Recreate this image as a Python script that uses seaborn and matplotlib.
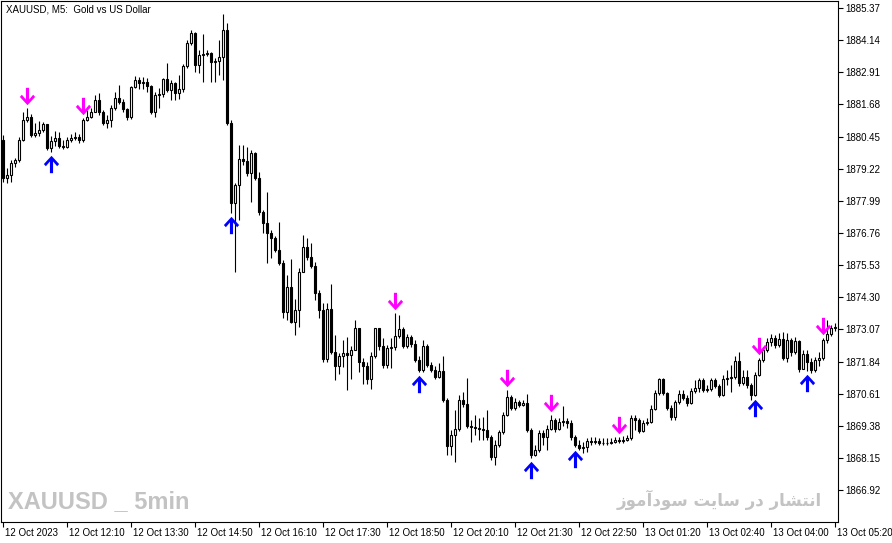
import numpy as np
import pandas as pd
import seaborn as sns
import matplotlib.pyplot as plt
from matplotlib.path import Path
from matplotlib.transforms import offset_copy, ScaledTranslation

# XAUUSD M5 candles, open of bar n = close of bar n-1
first_open = 1880.32
closes = [
    1878.87, 1878.98, 1879.44, 1879.56, 1880.32, 1881.09, 1881.20, 1880.51, 1880.59, 1880.70,
    1880.93, 1880.01, 1880.28, 1880.40, 1880.09, 1880.05, 1880.32, 1880.40, 1880.44, 1880.32,
    1881.09, 1881.20, 1881.39, 1881.85, 1881.39, 1880.97, 1881.09, 1881.55, 1881.93, 1881.78,
    1881.51, 1881.20, 1882.35, 1882.62, 1882.50, 1882.54, 1882.39, 1881.39, 1882.04, 1882.08,
    1882.66, 1882.23, 1882.50, 1882.12, 1882.27, 1883.15, 1884.03, 1884.42, 1883.19, 1883.57,
    1883.61, 1883.65, 1883.30, 1883.34, 1883.50, 1884.53, 1880.97, 1877.91, 1878.60, 1879.59,
    1879.52, 1879.06, 1879.82, 1878.87, 1877.56, 1877.15, 1876.76, 1876.57, 1876.11, 1875.61,
    1873.74, 1874.69, 1873.35, 1873.81, 1875.27, 1876.22, 1875.84, 1875.50, 1874.47, 1873.81,
    1871.94, 1873.85, 1872.20, 1871.67, 1872.05, 1872.16, 1872.09, 1872.28, 1873.13, 1871.82,
    1871.67, 1871.17, 1872.05, 1873.13, 1872.43, 1871.71, 1872.35, 1872.39, 1872.82, 1873.09,
    1872.43, 1872.78, 1872.51, 1871.90, 1871.52, 1872.43, 1871.71, 1871.52, 1871.25, 1871.48,
    1870.37, 1868.61, 1869.03, 1869.26, 1870.37, 1870.22, 1869.37, 1869.33, 1869.30, 1869.26,
    1869.22, 1868.95, 1868.19, 1868.65, 1869.14, 1869.79, 1870.48, 1870.07, 1870.29, 1870.18,
    1870.25, 1869.22, 1868.26, 1868.45, 1869.10, 1868.95, 1869.26, 1869.60, 1869.26, 1869.52,
    1869.56, 1869.49, 1868.95, 1868.65, 1868.53, 1868.57, 1868.80, 1868.76, 1868.80, 1868.72,
    1868.73, 1868.72, 1868.76, 1868.84, 1868.80, 1868.84, 1868.92, 1869.68, 1869.60, 1869.18,
    1869.49, 1869.52, 1870.03, 1870.64, 1871.17, 1870.64, 1870.07, 1869.72, 1870.29, 1870.60,
    1870.44, 1870.25, 1870.71, 1870.83, 1871.13, 1870.75, 1870.79, 1871.13, 1870.90, 1870.56,
    1871.17, 1871.21, 1871.25, 1871.86, 1871.02, 1871.25, 1870.94, 1870.56, 1871.33, 1871.90,
    1872.28, 1872.59, 1872.74, 1872.47, 1872.70, 1871.98, 1872.66, 1872.20, 1872.62, 1871.56,
    1872.13, 1871.82, 1871.52, 1871.90, 1871.98, 1872.66, 1872.90, 1873.13, 1873.17,
]
highs = [
    1880.51, 1879.25, 1879.56, 1879.63, 1880.44, 1881.39, 1881.55, 1881.32, 1880.97, 1881.05,
    1881.01, 1880.89, 1880.47, 1880.66, 1880.63, 1880.32, 1880.44, 1880.55, 1880.63, 1880.55,
    1881.16, 1881.47, 1881.55, 1882.04, 1882.12, 1881.47, 1881.28, 1881.66, 1882.16, 1882.43,
    1881.89, 1881.55, 1882.39, 1882.77, 1882.73, 1882.73, 1882.69, 1882.43, 1882.16, 1882.31,
    1882.69, 1883.27, 1882.62, 1882.54, 1882.81, 1883.23, 1884.15, 1884.53, 1884.46, 1883.77,
    1884.38, 1883.77, 1883.69, 1883.46, 1884.15, 1885.14, 1884.80, 1881.09, 1878.67, 1880.13,
    1880.13, 1880.05, 1879.94, 1879.86, 1879.10, 1877.64, 1878.33, 1876.88, 1876.65, 1877.18,
    1875.73, 1875.15, 1875.77, 1874.24, 1875.42, 1876.68, 1876.57, 1876.38, 1875.65, 1874.58,
    1874.08, 1874.08, 1874.81, 1872.86, 1872.16, 1872.66, 1872.78, 1872.43, 1873.43, 1873.05,
    1871.98, 1871.82, 1872.20, 1873.09, 1873.09, 1872.74, 1872.47, 1872.74, 1873.70, 1873.62,
    1873.16, 1872.90, 1872.86, 1872.66, 1872.05, 1872.66, 1872.51, 1871.82, 1871.67, 1871.78,
    1872.05, 1870.45, 1869.22, 1869.99, 1870.56, 1870.67, 1871.21, 1869.60, 1869.79, 1869.68,
    1869.72, 1869.99, 1869.03, 1868.84, 1869.22, 1869.91, 1870.75, 1870.56, 1870.45, 1870.37,
    1870.37, 1870.60, 1869.30, 1868.65, 1869.22, 1869.22, 1869.41, 1869.79, 1869.68, 1869.68,
    1870.14, 1869.68, 1869.60, 1869.03, 1868.84, 1868.76, 1868.92, 1868.95, 1868.95, 1868.92,
    1868.92, 1868.92, 1868.92, 1868.95, 1868.95, 1868.99, 1869.03, 1869.79, 1869.79, 1869.68,
    1869.60, 1869.68, 1870.18, 1870.75, 1871.21, 1871.21, 1870.67, 1870.18, 1870.37, 1870.75,
    1870.75, 1870.56, 1870.83, 1871.13, 1871.21, 1871.21, 1870.94, 1871.21, 1871.21, 1870.98,
    1871.33, 1871.52, 1871.71, 1872.05, 1872.20, 1871.52, 1871.52, 1871.02, 1871.44, 1871.98,
    1872.40, 1872.74, 1872.90, 1872.86, 1872.93, 1872.97, 1872.93, 1872.74, 1872.78, 1872.66,
    1872.28, 1872.28, 1871.98, 1872.01, 1872.20, 1872.74, 1873.43, 1873.24, 1873.32,
]
lows = [
    1878.71, 1878.67, 1878.71, 1879.29, 1879.48, 1880.28, 1881.01, 1880.44, 1880.44, 1880.47,
    1880.63, 1879.94, 1879.86, 1880.09, 1880.01, 1879.98, 1880.01, 1880.24, 1880.32, 1880.21,
    1880.24, 1881.05, 1881.16, 1881.39, 1881.28, 1880.89, 1880.78, 1880.82, 1881.47, 1881.70,
    1881.39, 1881.09, 1881.12, 1882.31, 1882.27, 1882.27, 1882.16, 1881.32, 1881.20, 1881.55,
    1881.97, 1882.16, 1881.85, 1881.85, 1881.89, 1882.16, 1883.08, 1883.96, 1882.92, 1882.89,
    1882.54, 1883.54, 1882.54, 1882.54, 1882.81, 1882.62, 1880.89, 1877.53, 1875.27, 1877.26,
    1879.36, 1878.94, 1877.95, 1878.79, 1877.45, 1876.76, 1875.61, 1875.80, 1876.03, 1875.54,
    1873.51, 1873.43, 1873.32, 1872.86, 1873.16, 1875.27, 1875.73, 1875.42, 1874.20, 1873.51,
    1871.82, 1871.82, 1872.13, 1871.13, 1871.36, 1871.63, 1870.75, 1871.17, 1872.28, 1871.44,
    1870.98, 1870.98, 1870.79, 1871.98, 1872.28, 1871.59, 1871.59, 1871.59, 1872.28, 1872.74,
    1872.35, 1872.35, 1872.39, 1871.82, 1871.44, 1871.44, 1871.63, 1871.44, 1871.17, 1871.21,
    1870.29, 1868.26, 1868.26, 1867.99, 1869.18, 1870.10, 1869.30, 1868.76, 1869.03, 1868.84,
    1868.84, 1868.84, 1868.07, 1867.88, 1868.57, 1869.07, 1869.76, 1869.99, 1869.99, 1870.10,
    1870.14, 1869.14, 1868.15, 1868.22, 1868.38, 1868.65, 1868.45, 1869.22, 1869.14, 1869.22,
    1869.37, 1869.30, 1868.84, 1868.57, 1868.45, 1868.34, 1868.38, 1868.65, 1868.68, 1868.65,
    1868.65, 1868.65, 1868.68, 1868.72, 1868.72, 1868.72, 1868.80, 1868.84, 1869.22, 1869.10,
    1869.14, 1869.41, 1869.49, 1869.99, 1870.56, 1870.56, 1869.99, 1869.60, 1869.60, 1870.22,
    1870.37, 1870.14, 1870.22, 1870.64, 1870.67, 1870.67, 1870.67, 1870.71, 1870.83, 1870.48,
    1870.52, 1870.94, 1870.67, 1871.17, 1870.90, 1870.94, 1870.83, 1870.37, 1870.52, 1871.29,
    1871.82, 1872.20, 1872.43, 1872.35, 1872.39, 1871.90, 1871.82, 1872.05, 1872.13, 1871.44,
    1871.59, 1871.48, 1871.40, 1871.44, 1871.67, 1871.90, 1872.55, 1872.82, 1873.01,
]

# indicator signals (bar numbers)
sell_bars = [6, 20, 98, 126, 137, 154, 189, 205]
buy_bars = [12, 57, 104, 132, 143, 188, 201]

time_labels = ["12 Oct 2023", "12 Oct 12:10", "12 Oct 13:30", "12 Oct 14:50",
               "12 Oct 16:10", "12 Oct 17:30", "12 Oct 18:50", "12 Oct 20:10",
               "12 Oct 21:30", "12 Oct 22:50", "13 Oct 01:20", "13 Oct 02:40",
               "13 Oct 04:00", "13 Oct 05:20"]
price_ticks = [1866.92, 1868.15, 1869.38, 1870.61, 1871.84, 1873.07, 1874.30, 1875.53,
               1876.76, 1877.99, 1879.22, 1880.45, 1881.68, 1882.91, 1884.14, 1885.37]

title_text = "XAUUSD, M5:  Gold vs US Dollar"
wm_left = "XAUUSD _ 5min"
# "انتشار در سایت سودآموز" pre-shaped (presentation forms, visual order)
wm_right = ("\uFEAF\uFEEE\uFEE3\uFE81\uFEA9\uFEEE\uFEB3 \uFE96\uFEF3\uFE8E\uFEB3 "
            "\uFEAD\uFEA9 \uFEAD\uFE8E\uFEB8\uFE98\uFEE7\uFE8D")

df = pd.DataFrame({"close": closes, "high": highs, "low": lows})
df["open"] = [first_open] + closes[:-1]
df["high"] = df[["high", "open", "close"]].max(axis=1)
df["low"] = df[["low", "open", "close"]].min(axis=1)
df["bar"] = np.arange(len(df))
up = df["close"] >= df["open"]
body_bottom = df[["open", "close"]].min(axis=1)
body_h = (df["close"] - df["open"]).abs()

sns.set_theme(style="white")
plt.rcParams["font.family"] = ["Liberation Sans", "DejaVu Sans"]

fig = plt.figure(figsize=(8.92, 5.43), dpi=100)
ax = fig.add_axes([1 / 892, 21 / 543, 837 / 892, 521 / 543])

# wicks then bodies
ax.vlines(df["bar"], df["low"], df["high"], color="black", lw=0.8, zorder=1)
ax.bar(df["bar"][up], body_h[up], bottom=body_bottom[up], width=0.5,
       color="white", edgecolor="black", lw=0.8, zorder=2)
ax.bar(df["bar"][~up], body_h[~up], bottom=body_bottom[~up], width=0.5,
       color="black", edgecolor="black", lw=0.8, zorder=2)

# arrow markers
down_arrow = Path([(-0.18, 1.0), (0.18, 1.0), (0.18, -0.35), (0.65, 0.2), (0.88, -0.05),
                   (0.0, -1.0), (-0.88, -0.05), (-0.65, 0.2), (-0.18, -0.35), (-0.18, 1.0)],
                  closed=True)
up_arrow = Path([(x, -y) for x, y in down_arrow.vertices], closed=True)
above = offset_copy(ax.transData, fig=fig, x=0, y=12, units="dots")
below = offset_copy(ax.transData, fig=fig, x=0, y=-12, units="dots")
ax.plot(sell_bars, df.loc[sell_bars, "high"], ls="none", marker=down_arrow, ms=12.5,
        color="#FF00FF", mew=0, transform=above, zorder=3)
ax.plot(buy_bars, df.loc[buy_bars, "low"], ls="none", marker=up_arrow, ms=12.5,
        color="#0000FF", mew=0, transform=below, zorder=3)

ax.set_xlim(-0.5, 208.75)
ax.set_ylim(1865.70, 1885.64)

ax.yaxis.tick_right()
ax.set_yticks(price_ticks)
ax.set_yticklabels([f"{v:.2f}" for v in price_ticks])
ax.set_xticks(np.arange(0, 16 * len(time_labels), 16))
ax.set_xticklabels(time_labels)
ax.tick_params(axis="y", direction="out", length=3.5, width=0.8, pad=2,
               labelsize=7, colors="black", right=True, left=False)
ax.tick_params(axis="x", direction="out", length=3.6, width=0.8, pad=1,
               labelsize=7, colors="black", bottom=True)
shift = ScaledTranslation(2 / 100, 0, fig.dpi_scale_trans)
for lab in ax.get_xticklabels():
    lab.set_ha("left")
    lab.set_transform(lab.get_transform() + shift)
for s in ax.spines.values():
    s.set_color("black")
    s.set_linewidth(0.8)
ax.grid(False)

fig.text(6 / 892, 1 - 9 / 543, title_text, fontsize=7, va="center", ha="left", color="black")
fig.text(8 / 892, 1 - 502 / 543, wm_left, fontsize=17, fontweight="bold", color="#c3c3c3",
         family=["Liberation Sans"], va="center", ha="left")
fig.text(822 / 892, 1 - 500 / 543, wm_right, fontsize=12, fontweight="bold", color="#c3c3c3",
         family=["DejaVu Sans"], va="center", ha="right")

fig.savefig("out.png", dpi=100)
